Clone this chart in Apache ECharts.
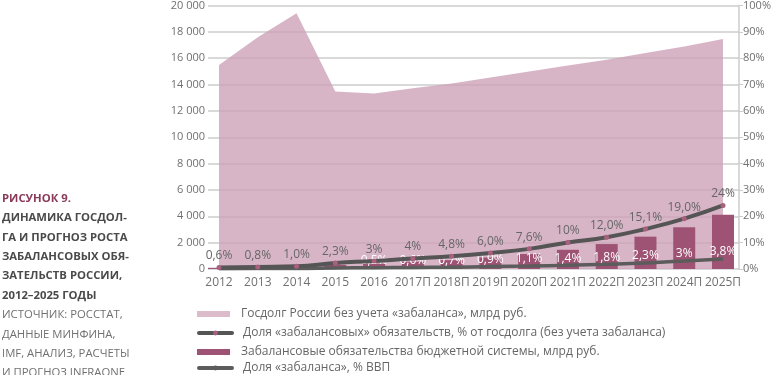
<!DOCTYPE html>
<html>
<head>
<meta charset="utf-8">
<script src="https://cdn.jsdelivr.net/npm/echarts@6/dist/echarts.min.js"></script>
<style>html,body{margin:0;padding:0;background:#fff}#c{width:774px;height:375px}</style>
</head>
<body>
<div id="c"></div>
<script>
var categories = ['2012','2013','2014','2015','2016','2017П','2018П','2019П','2020П','2021П','2022П','2023П','2024П','2025П'];
var debt = [15400, 17500, 19300, 13400, 13250, 13650, 14000, 14450, 14900, 15350, 15800, 16300, 16800, 17350];
var offBalance = [90, 140, 190, 310, 400, 550, 670, 870, 1130, 1450, 1880, 2440, 3150, 4100];
var shareDebt = [0.6, 0.8, 1.0, 2.3, 3, 4, 4.8, 6.0, 7.6, 10, 12.0, 15.1, 19.0, 24];
var shareDebtLabels = ['0,6%','0,8%','1,0%','2,3%','3%','4%','4,8%','6,0%','7,6%','10%','12,0%','15,1%','19,0%','24%'];
var shareGdp = [0.1, 0.2, 0.2, 0.4, 0.5, 0.6, 0.7, 0.9, 1.1, 1.4, 1.8, 2.3, 3, 3.8];
var shareGdpLabels = ['','','','','0,5%','0,6%','0,7%','0,9%','1,1%','1,4%','1,8%','2,3%','3%','3,8%'];
var names = [
  'Госдолг России без учета «забаланса», млрд руб.',
  'Доля «забалансовых» обязательств, % от госдолга (без учета забаланса)',
  'Забалансовые обязательства бюджетной системы, млрд руб.',
  'Доля «забаланса», % ВВП'
];
var titleLines = [
  {t:'РИСУНОК 9.', c:'#8a3a5a', w:'bold'},
  {t:'ДИНАМИКА ГОСДОЛ-', c:'#4a4a4a', w:'bold'},
  {t:'ГА И ПРОГНОЗ РОСТА', c:'#4a4a4a', w:'bold'},
  {t:'ЗАБАЛАНСОВЫХ ОБЯ-', c:'#4a4a4a', w:'bold'},
  {t:'ЗАТЕЛЬСТВ РОССИИ,', c:'#4a4a4a', w:'bold'},
  {t:'2012–2025 ГОДЫ', c:'#4a4a4a', w:'bold'},
  {t:'ИСТОЧНИК: РОССТАТ,', c:'#707070', w:'normal'},
  {t:'ДАННЫЕ МИНФИНА,', c:'#707070', w:'normal'},
  {t:'IMF, АНАЛИЗ, РАСЧЕТЫ', c:'#707070', w:'normal'},
  {t:'И ПРОГНОЗ INFRAONE', c:'#707070', w:'normal'}
];
var FONT = '"Open Sans", sans-serif';
var graphics = titleLines.map(function(l, i){
  return {type:'text', left:2, top:193 + i*19.4, style:{text:l.t, fill:l.c, font: l.w + ' 11.3px ' + FONT}};
});
var legendTops = [308, 327, 346, 362];
var legendItems = [
  {name:names[0], icon:'rect', itemStyle:{color:'#dcbccb'}},
  {name:names[1], lineStyle:{width:4, color:'#555555', cap:'round'}, itemStyle:{color:'#a8607e'}},
  {name:names[2], icon:'rect'},
  {name:names[3], lineStyle:{width:4, color:'#5c5c5c', cap:'round'}}
];
var legends = legendItems.map(function(it, i){
  return {orient:'vertical', left:197, top:legendTops[i], padding:0, itemWidth:33, itemHeight:6,
    textStyle:{color:'#666666', fontSize:12, fontFamily:FONT, padding:[0,0,0,6]}, data:[it]};
});
var chart = echarts.init(document.getElementById('c'), null, {renderer:'canvas'});
chart.setOption({
  animation:false,
  textStyle:{fontFamily:FONT},
  graphic: graphics,
  grid:[
    {left:208, right:31, top:4, bottom:106},
    {left:219, right:51, top:4, bottom:106}
  ],
  xAxis:[
    {gridIndex:0, type:'value', min:0, max:1, show:false},
    {gridIndex:1, type:'category', boundaryGap:false, data:categories,
     axisLine:{show:false}, axisTick:{show:false},
     axisLabel:{color:'#707070', fontSize:12, margin:8, interval:0}}
  ],
  yAxis:[
    {gridIndex:0, type:'value', position:'left', min:0, max:20000, interval:2000,
     axisLine:{show:false}, axisTick:{show:false},
     axisLabel:{color:'#707070', fontSize:11, margin:3, formatter:function(v){return String(v).replace(/\B(?=(\d{3})+(?!\d))/g,' ');}},
     splitLine:{lineStyle:{color:'#cccccc', width:1.5}}},
    {gridIndex:0, type:'value', position:'right', min:0, max:100, interval:10,
     axisLine:{show:true, lineStyle:{color:'#cccccc', width:1.5}},
     axisTick:{show:true, length:4, lineStyle:{color:'#cccccc'}},
     axisLabel:{color:'#707070', fontSize:11, margin:4, formatter:'{value}%'},
     splitLine:{show:false}},
    {gridIndex:1, type:'value', min:0, max:20000, show:false},
    {gridIndex:1, type:'value', min:0, max:100, show:false}
  ],
  legend: legends,
  series:[
    {name:names[0], type:'line', xAxisIndex:1, yAxisIndex:2, data:debt, symbol:'none',
     lineStyle:{width:0}, itemStyle:{color:'#dcbccb'}, areaStyle:{color:'rgba(204,160,182,0.78)', opacity:1}, z:1},
    {name:names[2], type:'bar', xAxisIndex:1, yAxisIndex:2, data:offBalance, barWidth:22,
     itemStyle:{color:'#9e5274'}, z:2},
    {name:names[3], type:'line', xAxisIndex:1, yAxisIndex:3, smooth:true, symbol:'circle', symbolSize:0.1,
     showAllSymbol:true,
     lineStyle:{color:'#5c5c5c', width:3.5}, itemStyle:{color:'#5c5c5c'}, z:3,
     data: shareGdp,
     label:{show:true, position:'top', distance:1, color:'#ffffff', fontSize:12, fontFamily:FONT,
       formatter:function(p){return shareGdpLabels[p.dataIndex];}}},
    {name:names[1], type:'line', xAxisIndex:1, yAxisIndex:3, smooth:true, symbol:'circle', symbolSize:5,
     showAllSymbol:true,
     lineStyle:{color:'#555555', width:4}, itemStyle:{color:'#a8607e', borderWidth:0}, z:4,
     data: shareDebt,
     label:{show:true, position:'top', distance:3, color:'#666666', fontSize:12, fontFamily:FONT,
       formatter:function(p){return shareDebtLabels[p.dataIndex];}}}
  ]
});
</script>
</body>
</html>
